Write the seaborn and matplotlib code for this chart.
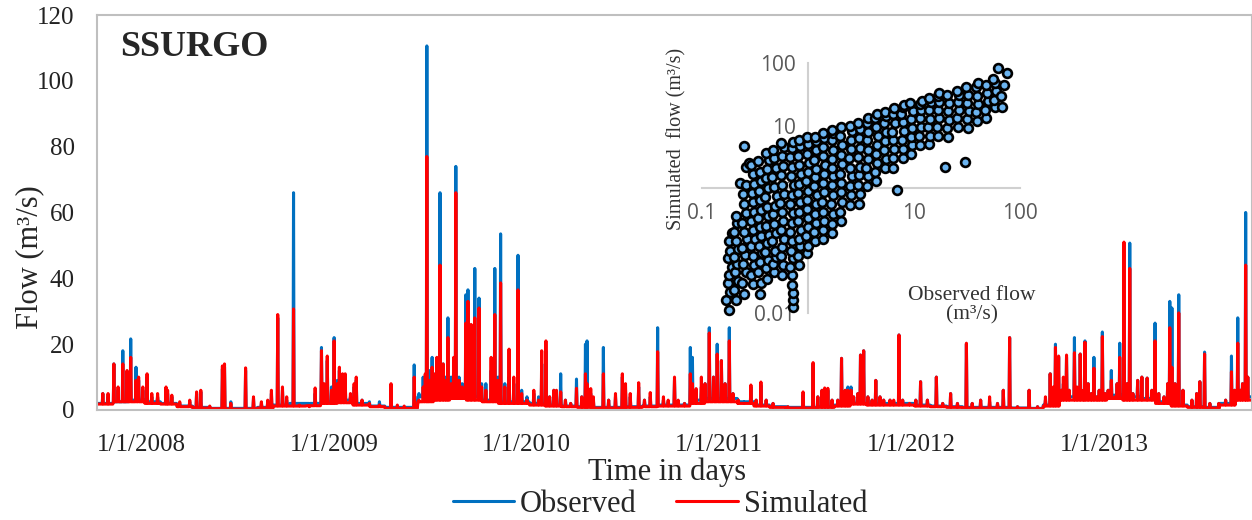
import matplotlib
matplotlib.use('Agg')
import matplotlib.pyplot as plt
from matplotlib.lines import Line2D
import numpy as np
import pandas as pd
import seaborn as sns

# monthly base flow, Jan 2008 .. Dec 2013 (m3/s)
base_obs = [2, 2.5, 3, 2.5, 2, 1.2, 0.8, 0.5, 0.5, 0.5, 0.8, 1.5,
            2, 2, 2.5, 3, 2, 1.2, 0.8, 0.8, 4, 5, 5, 4,
            3, 2.5, 2.5, 2, 1.5, 1.2, 1, 0.8, 0.8, 1, 1.2, 1.5,
            1.5, 3, 3.5, 3.5, 2.5, 1.5, 1, 0.8, 0.8, 1, 1.5, 2,
            2, 2, 2, 1.5, 1.2, 1, 0.8, 0.8, 0.8, 0.6, 0.5, 1.5,
            4, 4, 4, 4.5, 4, 3.5, 2.5, 1.5, 1, 0.8, 2, 4]
base_sim = [1.8, 2.5, 2.5, 2, 1.8, 1, 0.6, 0.4, 0.3, 0.3, 0.6, 1.2,
            1.2, 1.3, 2, 2.2, 1.5, 1, 0.5, 0.5, 2.5, 3, 3.5, 3,
            2.5, 2, 2, 1.5, 1.2, 1, 0.8, 0.6, 0.6, 0.8, 1, 1.2,
            1.2, 2, 2.5, 2.5, 2, 1.2, 0.8, 0.6, 0.6, 0.8, 1.2, 1.8,
            1.5, 1.5, 1.5, 1.2, 1, 0.8, 0.6, 0.6, 0.6, 0.5, 0.4, 1.2,
            3, 3, 3, 3.5, 3, 3, 2, 1.2, 0.8, 0.6, 1.5, 3]

# storm days
event_dates = [
    '2008-01-12', '2008-01-22', '2008-02-02', '2008-02-10', '2008-02-19', '2008-02-27', '2008-03-05', '2008-03-15',
    '2008-03-20', '2008-03-28', '2008-04-05', '2008-04-14', '2008-04-25', '2008-05-11', '2008-05-14', '2008-05-22',
    '2008-06-06', '2008-06-25', '2008-07-08', '2008-07-16', '2008-08-02', '2008-08-26', '2008-08-30', '2008-09-11',
    '2008-10-09', '2008-10-24', '2008-11-08', '2008-11-20', '2008-11-27', '2008-12-09', '2008-12-18', '2008-12-26',
    '2009-01-08', '2009-01-19', '2009-02-07', '2009-02-18', '2009-03-02', '2009-03-07', '2009-03-13', '2009-03-21',
    '2009-03-26', '2009-04-01', '2009-04-05', '2009-04-11', '2009-04-16', '2009-04-26', '2009-05-03', '2009-05-07',
    '2009-05-18', '2009-06-01', '2009-06-20', '2009-07-12', '2009-07-24', '2009-08-06', '2009-08-25', '2009-09-03',
    '2009-09-11', '2009-09-15', '2009-09-18', '2009-09-24', '2009-09-28', '2009-10-04', '2009-10-07', '2009-10-13',
    '2009-10-19', '2009-10-24', '2009-10-28', '2009-11-03', '2009-11-08', '2009-11-12', '2009-11-18', '2009-11-24',
    '2009-12-01', '2009-12-05', '2009-12-11', '2009-12-18', '2009-12-26', '2009-12-31',
    '2010-01-08', '2010-01-18', '2010-01-25', '2010-01-31', '2010-02-05', '2010-02-13', '2010-02-21', '2010-03-02',
    '2010-03-10', '2010-03-17', '2010-03-27', '2010-04-09', '2010-04-18', '2010-04-24', '2010-05-02', '2010-05-09',
    '2010-05-17', '2010-05-22', '2010-05-30', '2010-06-08', '2010-06-18', '2010-06-29', '2010-07-09', '2010-07-16',
    '2010-07-19', '2010-07-26', '2010-07-31', '2010-08-19', '2010-08-29', '2010-09-11', '2010-09-24', '2010-09-30',
    '2010-10-09', '2010-10-25', '2010-11-05', '2010-11-16', '2010-11-30', '2010-12-11', '2010-12-20',
    '2011-01-01', '2011-01-08', '2011-01-20', '2011-01-31', '2011-02-04', '2011-02-11', '2011-02-21', '2011-02-28',
    '2011-03-08', '2011-03-16', '2011-03-23', '2011-03-31', '2011-04-07', '2011-04-15', '2011-04-22', '2011-05-02',
    '2011-05-13', '2011-05-26', '2011-06-05', '2011-06-14', '2011-06-24', '2011-07-07', '2011-08-04', '2011-09-02',
    '2011-09-21', '2011-09-30', '2011-10-08', '2011-10-13', '2011-10-19', '2011-10-27', '2011-11-07', '2011-11-14',
    '2011-11-21', '2011-11-26', '2011-12-02', '2011-12-07', '2011-12-15', '2011-12-20', '2011-12-26',
    '2012-01-03', '2012-01-11', '2012-01-18', '2012-01-26', '2012-02-02', '2012-02-14', '2012-02-21', '2012-03-02',
    '2012-03-09', '2012-03-22', '2012-04-03', '2012-04-12', '2012-04-25', '2012-05-12', '2012-05-24', '2012-06-08',
    '2012-06-21', '2012-07-08', '2012-07-19', '2012-08-04', '2012-08-21', '2012-09-05', '2012-09-16', '2012-09-28',
    '2012-10-13', '2012-11-04', '2012-11-20', '2012-12-05', '2012-12-14', '2012-12-20', '2012-12-24', '2012-12-30',
    '2013-01-04', '2013-01-08', '2013-01-14', '2013-01-19', '2013-01-29', '2013-02-03', '2013-02-09', '2013-02-15',
    '2013-02-18', '2013-02-24', '2013-03-02', '2013-03-07', '2013-03-13', '2013-03-17', '2013-03-23', '2013-03-28',
    '2013-04-03', '2013-04-09', '2013-04-16', '2013-04-20', '2013-04-25', '2013-05-03', '2013-05-09', '2013-05-14',
    '2013-05-20', '2013-05-29', '2013-06-06', '2013-06-16', '2013-06-25', '2013-07-01', '2013-07-08', '2013-07-18',
    '2013-07-25', '2013-07-29', '2013-08-02', '2013-08-08', '2013-08-15', '2013-08-23', '2013-09-09', '2013-09-18',
    '2013-09-24', '2013-10-03', '2013-10-13', '2013-10-30', '2013-11-12', '2013-11-23', '2013-11-29', '2013-12-05',
    '2013-12-10', '2013-12-14', '2013-12-20', '2013-12-24',
]
event_obs = [
    5, 4, 14, 6, 18, 9, 21.6, 13, 9, 6, 10, 4, 4, 6, 5, 4, 2, 2.5, 5, 5.5, 1, 12.5, 13, 2.5, 12, 3.5, 2, 2.5, 5, 28, 6, 3,
    66, 2, 1.5, 5, 19, 7, 15, 7, 22, 9, 12, 10, 9, 4, 7, 9, 3, 2.5, 2.5, 7, 1, 0.8, 13.7, 5, 10, 8, 110.6, 12, 16, 11,
    14, 66, 14, 10, 28, 10, 12, 74, 10, 8, 35, 36.5, 14, 43, 34, 8,
    8, 12, 43, 10, 53.5, 8, 10, 8, 47, 6, 4, 5, 4, 14, 18, 4, 6, 5, 11, 3, 2, 9.4, 4, 20, 21, 5, 3, 19, 3, 4,
    10, 6, 4, 7, 3, 4, 25, 3, 2.5,
    9, 2, 2, 19, 16, 5, 7, 8, 25, 10, 20, 15, 8, 25, 5, 3, 2, 7, 3, 7.5, 3, 2, 1, 4.5, 14, 4, 6, 6, 6, 3,
    3, 15.7, 6, 7, 7, 4, 5, 16.7, 18,
    4, 3, 9, 4, 3, 3, 2.5, 22.8, 3, 2, 3, 8.6, 3, 10, 2, 5, 2, 20, 2, 3, 2.5, 2, 6, 22, 1, 6, 1, 3, 11, 6, 20, 16,
    6, 8, 16, 6, 22, 6, 17, 6, 21, 8, 5, 16, 4, 6, 23.7, 5, 6, 12, 4, 8, 20.3, 14, 8, 50.7, 5, 9, 10, 9.7, 6, 26.4,
    5, 4, 8, 33, 31, 8, 35, 6, 3, 5, 8.6, 17.6, 2, 2, 3, 16.4, 6, 28, 6, 8, 60, 10,
]
event_sim = [
    5, 5, 14, 7, 14, 12, 16, 9, 10, 7, 11, 5, 5, 7, 6, 4.5, 2.5, 3, 5.5, 6, 1.2, 13.4, 14, 2, 12.8, 4, 2.5, 3, 6, 29, 7, 4,
    30.7, 1.5, 1, 6.7, 18, 8, 16.4, 6, 21, 8, 13, 11, 11, 5, 8, 10, 3, 2, 1.5, 8, 1.5, 1.2, 10, 3, 7, 11, 77, 9, 13, 11,
    16, 44, 14, 9, 22, 8, 16, 66, 9, 7, 26.4, 33, 26, 28, 31, 7,
    6, 16, 29, 9, 38.6, 7, 18.5, 10, 36.5, 5, 3, 6, 3, 18, 21, 4, 6, 6, 5.5, 3, 2, 6.6, 4, 11, 8, 6.5, 4, 11, 3, 5,
    11, 8, 5, 8.3, 3, 5.3, 17.7, 4, 3,
    10, 3, 2, 11, 8, 6.5, 10, 8, 23.4, 10, 17, 15, 8, 21, 5, 3, 2, 7.6, 3, 8.5, 3, 2, 1, 5.5, 14.4, 4, 6, 6.7, 6.6, 3,
    3, 15.7, 6, 6, 6, 4, 5, 16.7, 18,
    4, 3, 9, 4, 3, 3, 3, 22.8, 3, 2, 3, 8.6, 3, 10, 2, 5, 2, 20.3, 2, 3, 4, 2, 6, 22, 1, 6, 1, 4, 11, 7, 19, 16.4,
    6, 10, 16.7, 6, 17.4, 7, 17, 6, 20.6, 8, 5, 12.7, 4, 6, 22.3, 5, 6, 9, 4, 8, 16, 51, 8, 43, 5, 9, 10, 9.7, 6, 21,
    5, 4, 8, 25, 13, 8, 29.5, 6, 3, 5, 8.6, 17, 2, 2, 3, 11.6, 6, 20.3, 6, 8, 44, 10,
]

# inset scatter: observed vs simulated, grouped by observed column
inset_obs = [
    [0.18, 0.17, 0.185, 0.175, 0.18, 0.19, 0.175, 0.185, 0.18, 0.19],
    [0.21, 0.2, 0.22, 0.205, 0.215, 0.2, 0.22, 0.21, 0.2, 0.215, 0.21, 0.23],
    [0.25, 0.24, 0.26, 0.245, 0.255, 0.24, 0.265, 0.25, 0.24, 0.26, 0.25, 0.245, 0.26, 0.26, 0.25, 0.28],
    [0.3, 0.29, 0.31, 0.3, 0.29, 0.315, 0.3, 0.29, 0.31, 0.3, 0.295, 0.31, 0.3, 0.29],
    [0.35, 0.36, 0.34, 0.355, 0.365, 0.345, 0.36, 0.35, 0.34, 0.36, 0.355, 0.345, 0.36, 0.35, 0.34],
    [0.41, 0.4, 0.42, 0.39, 0.41, 0.43, 0.4, 0.42, 0.41, 0.39, 0.42, 0.4, 0.41, 0.43, 0.4],
    [0.48, 0.47, 0.5, 0.49, 0.46, 0.5, 0.48, 0.47, 0.49, 0.51, 0.48, 0.46, 0.5, 0.48, 0.47],
    [0.57, 0.58, 0.56, 0.57, 0.59, 0.56, 0.58, 0.57, 0.55, 0.59, 0.57, 0.56, 0.58, 0.57, 0.59, 0.56],
    [0.72, 0.72, 0.72, 0.71, 0.7, 0.68, 0.72, 0.69, 0.71, 0.67, 0.7, 0.72, 0.68, 0.7, 0.73, 0.69, 0.71, 0.68, 0.7, 0.72],
    [0.83, 0.81, 0.84, 0.82, 0.85, 0.8, 0.83, 0.84, 0.81, 0.83, 0.85, 0.82, 0.8, 0.84, 0.82],
    [0.98, 1.0, 0.96, 0.99, 1.01, 0.97, 0.98, 1.0, 0.96, 0.99, 1.02, 0.97, 1.0, 0.98],
    [1.17, 1.15, 1.2, 1.16, 1.18, 1.21, 1.15, 1.17, 1.19, 1.14, 1.18, 1.2, 1.16],
    [1.4, 1.38, 1.42, 1.4, 1.37, 1.43, 1.39, 1.41, 1.44, 1.38, 1.4, 1.42, 1.39],
    [1.7, 1.68, 1.72, 1.66, 1.71, 1.69, 1.73, 1.67, 1.7, 1.72, 1.68, 1.71, 1.69],
    [2.05, 2.0, 2.1, 2.03, 2.07, 2.0, 2.08, 2.04, 2.1, 2.02, 2.06],
    [2.5, 2.55, 2.48, 2.58, 2.5, 2.45, 2.56, 2.52, 2.6, 2.5],
    [3.0, 3.1, 2.95, 3.05, 3.12, 2.98, 3.08, 3.0, 3.1, 2.95],
    [3.6, 3.7, 3.55, 3.65, 3.72, 3.58, 3.66, 3.6, 3.7],
    [4.4, 4.3, 4.5, 4.35, 4.45, 4.55, 4.4, 4.3, 4.5],
    [5.3, 5.4, 5.2, 5.35, 5.45, 5.25, 5.4, 5.3],
    [6.4, 6.3, 6.5, 6.4, 6.2, 6.55, 6.35, 6.45, 6.9],
    [7.8, 7.9, 7.7, 8.0, 7.8, 7.6, 7.9, 8.1],
    [9.4, 9.6, 9.3, 9.5, 9.4, 9.7, 9.2],
    [11.5, 11.2, 11.7, 11.4, 11.6, 11.3, 11.8],
    [14, 14.3, 13.7, 14.2, 13.9, 14.4, 14],
    [17, 16.6, 17.3, 16.9, 17.4, 16.7, 17.1, 19.5],
    [21, 20.5, 21.5, 20.8, 21.3, 20.6],
    [26, 25.5, 26.5, 25.8, 26.3, 25.6, 30],
    [32, 31.5, 32.8, 31.8, 32.5, 31.2],
    [39, 38.5, 40, 39.5, 38.2, 39.8],
    [48, 47, 49.5, 48.5, 47.5],
    [58, 57, 59.5, 58.5, 56],
    [68, 66, 70, 62, 75],
]
inset_sim = [
    [0.011, 0.016, 0.022, 0.03, 0.04, 0.055, 0.075, 0.1, 0.14, 0.19],
    [0.016, 0.023, 0.033, 0.045, 0.06, 0.08, 0.105, 0.14, 0.2, 0.28, 0.36, 1.2],
    [0.02, 0.03, 0.045, 0.06, 0.085, 0.11, 0.15, 0.2, 0.28, 0.4, 0.55, 0.8, 1.1, 2.2, 4.7, 2.5],
    [0.029, 0.041, 0.059, 0.083, 0.118, 0.155, 0.21, 0.3, 0.41, 0.59, 0.83, 1.18, 1.65, 2.3],
    [0.02, 0.03, 0.045, 0.065, 0.09, 0.12, 0.17, 0.24, 0.33, 0.45, 0.65, 0.9, 1.3, 1.8, 2.7],
    [0.035, 0.053, 0.071, 0.094, 0.13, 0.18, 0.25, 0.35, 0.5, 0.71, 1.0, 1.42, 2.0, 2.8, 3.6],
    [0.045, 0.06, 0.08, 0.1, 0.14, 0.19, 0.27, 0.38, 0.52, 0.75, 1.05, 1.5, 2.1, 3.0, 4.0],
    [0.041, 0.059, 0.083, 0.112, 0.153, 0.21, 0.3, 0.41, 0.57, 0.8, 1.12, 1.6, 2.25, 3.2, 4.5, 5.2],
    [0.0125, 0.016, 0.021, 0.028, 0.04, 0.055, 0.075, 0.1, 0.14, 0.2, 0.28, 0.4, 0.55, 0.78, 1.1, 1.55, 2.2, 3.1, 4.3, 5.5],
    [0.059, 0.083, 0.118, 0.153, 0.21, 0.3, 0.41, 0.59, 0.83, 1.18, 1.65, 2.35, 3.3, 4.7, 5.8],
    [0.09, 0.12, 0.17, 0.24, 0.33, 0.46, 0.65, 0.9, 1.3, 1.8, 2.5, 3.5, 5.0, 6.6],
    [0.14, 0.2, 0.28, 0.39, 0.55, 0.77, 1.06, 1.48, 2.05, 2.85, 4.0, 5.6, 6.5],
    [0.15, 0.21, 0.3, 0.42, 0.6, 0.85, 1.2, 1.65, 2.3, 3.2, 4.5, 6.3, 7.5],
    [0.19, 0.27, 0.39, 0.55, 0.78, 1.1, 1.53, 2.1, 2.95, 4.1, 5.9, 7.6, 8.5],
    [0.3, 0.42, 0.6, 0.85, 1.2, 1.7, 2.4, 3.4, 4.8, 6.8, 9.5],
    [0.53, 0.77, 1.06, 1.53, 2.1, 3.05, 4.25, 5.9, 8.2, 10],
    [0.55, 0.8, 1.1, 1.6, 2.2, 3.1, 4.4, 6.2, 8.7, 11],
    [1.06, 1.53, 2.1, 2.95, 4.1, 5.8, 8.0, 11, 13],
    [1.3, 1.8, 2.5, 3.5, 4.9, 6.8, 9.5, 13, 15],
    [2.1, 2.95, 4.1, 5.6, 7.8, 10.8, 14, 16.5],
    [2.1, 3.0, 4.2, 5.8, 8.0, 11, 15, 19, 0.93],
    [3.0, 4.2, 5.9, 8.2, 11.3, 15.3, 19.5, 21],
    [3.5, 4.8, 6.6, 9.0, 12.5, 17, 23],
    [4.9, 6.8, 9.4, 13, 17.7, 22, 25],
    [5.0, 6.8, 9.3, 12.8, 17.5, 24, 28],
    [6.8, 9.4, 13, 17.7, 24, 30, 33, 2.2],
    [6.5, 9.0, 12.3, 17, 23, 31],
    [9.4, 13, 17.7, 23.5, 31, 36, 2.6],
    [9, 12.5, 17, 23, 31, 42],
    [11.8, 16.5, 22.4, 30, 41, 48],
    [13, 18, 25, 33, 45],
    [20, 26, 35, 47, 55],
    [20, 30, 45, 83, 69],
]

year_ticks = ['2008-01-01', '2009-01-01', '2010-01-01', '2011-01-01', '2012-01-01', '2013-01-01']
year_labels = ['1/1/2008', '1/1/2009', '1/1/2010', '1/1/2011', '1/1/2012', '1/1/2013']
colors = {'Observed': '#0070C0', 'Simulated': '#FF0000'}

assert len(event_dates) == len(event_obs) == len(event_sim)

sns.set_style('white')
plt.rcParams['font.family'] = ['Liberation Serif', 'DejaVu Serif']

# daily series: monthly base flow with the storm days on top
days = pd.date_range('2008-01-01', '2013-12-31', freq='D')
month_idx = (days.year - 2008) * 12 + days.month - 1
obs = np.array(base_obs, dtype=float)[month_idx]
sim = np.array(base_sim, dtype=float)[month_idx]
pos = days.get_indexer(pd.to_datetime(event_dates))
obs[pos] = event_obs
sim[pos] = event_sim

df = pd.DataFrame({'date': np.concatenate([days, days]),
                   'flow': np.concatenate([obs, sim]),
                   'series': ['Observed'] * len(days) + ['Simulated'] * len(days)})

fig = plt.figure(figsize=(12.52, 5.2), dpi=100)
ax = fig.add_axes([97 / 1252, 1 - 410 / 520, 1155 / 1252, 395 / 520])
sns.lineplot(data=df, x='date', y='flow', hue='series', hue_order=['Observed', 'Simulated'],
             palette=colors, estimator=None, linewidth=2.2, legend=False, ax=ax)

ax.set_xlim(pd.Timestamp('2008-01-01'), pd.Timestamp('2014-01-01'))
ax.set_ylim(0, 120)
ax.set_yticks(range(0, 121, 20))
ax.set_xticks(pd.to_datetime(year_ticks))
ax.set_xticklabels(year_labels, ha='left')
ax.tick_params(axis='x', length=5, color='#BFBFBF', labelsize=18, pad=12, labelcolor='#222222')
ax.tick_params(axis='y', length=0, labelsize=18, pad=16, labelcolor='#222222')
ax.set_xlabel('')
ax.set_ylabel('')
for s in ax.spines.values():
    s.set_color('#BFBFBF')
    s.set_linewidth(1.5)

fig.text(120 / 1252, 1 - 47 / 520, 'SSURGO', fontsize=26, fontweight='bold', va='center', ha='left')
fig.text(30 / 1252, 1 - 257 / 520, 'Flow (m³/s)', rotation=90, fontsize=22, ha='center', va='center')
fig.text(667 / 1252, 1 - 472 / 520, 'Time in days', fontsize=22, ha='center', va='center')

handles = [Line2D([], [], color=colors[k], lw=2.2) for k in ['Observed', 'Simulated']]
fig.legend(handles, ['Observed', 'Simulated'], loc='center', bbox_to_anchor=(660 / 1252, 1 - 504 / 520),
           ncol=2, frameon=False, fontsize=22, handlelength=2.0, handletextpad=0.2, columnspacing=1.3,
           borderpad=0, borderaxespad=0)

# inset log-log scatter with axes crossing at 1
iax = fig.add_axes([702 / 1252, 1 - 313 / 520, 318 / 1252, 250 / 520])
iax.patch.set_alpha(0)
pts_obs = [v for col in inset_obs for v in col]
pts_sim = [v for col in inset_sim for v in col]
assert len(pts_obs) == len(pts_sim)
sns.scatterplot(x=pts_obs, y=pts_sim, ax=iax, s=40, color='#6BB4F0', edgecolor='black',
                linewidth=1.9, zorder=3, clip_on=False)
iax.set_xscale('log')
iax.set_yscale('log')
iax.set_xlim(0.1, 100)
iax.set_ylim(0.01, 100)
iax.spines['left'].set_position(('data', 1))
iax.spines['bottom'].set_position(('data', 1))
iax.spines['top'].set_visible(False)
iax.spines['right'].set_visible(False)
for side in ['left', 'bottom']:
    iax.spines[side].set_color('#D0D0D0')
    iax.spines[side].set_linewidth(1.5)
iax.set_xticks([0.1, 1, 10, 100])
iax.set_xticklabels(['0.1', '1', '10', '100'])
iax.set_yticks([0.01, 0.1, 1, 10, 100])
iax.set_yticklabels(['0.01', '0.1', '1', '10', '100'])
iax.minorticks_off()
iax.tick_params(axis='x', length=0, pad=11)
iax.tick_params(axis='y', length=0, pad=9)
for lab in iax.get_xticklabels() + iax.get_yticklabels():
    lab.set_fontfamily('Open Sans')
    lab.set_fontsize(15)
    lab.set_color('#595959')

fig.text(677 / 1252, 1 - 139 / 520, 'Simulated  flow (m³/s)', rotation=90, fontsize=14.5,
         ha='center', va='center', color='#333333')
fig.text(972 / 1252, 1 - 305 / 520, 'Observed flow\n(m³/s)', fontsize=15.5, ha='center', va='center',
         linespacing=1.05, color='#333333')

fig.savefig('out.png', dpi=100)
